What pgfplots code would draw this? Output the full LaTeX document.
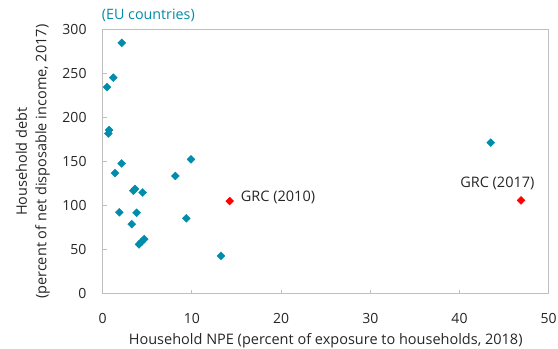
\documentclass[border=0pt]{standalone}
\usepackage{fontspec}
\setmainfont{Open Sans}
\usepackage{pgfplots}
\pgfplotsset{compat=1.18}
\usetikzlibrary{calc}
\definecolor{teal1}{RGB}{0,140,170}
\definecolor{axgray}{RGB}{191,191,191}
\newcommand{\lbl}{\fontsize{14.5bp}{19.5bp}\selectfont}
\newcommand{\tck}{\fontsize{14bp}{16bp}\selectfont}
\begin{document}
\lbl
\begin{tikzpicture}
\begin{axis}[
  name=ax,
  at={(0,0)}, anchor=south west,
  scale only axis, width=446bp, height=264bp,
  xmin=0, xmax=50, ymin=0, ymax=300,
  xtick={0,10,...,50}, ytick={0,50,...,300},
  tick pos=left, tick align=inside,
  major tick length=4bp,
  axis line style={axgray, line width=1bp},
  tick style={axgray, line width=1bp},
  every tick label/.append style={font=\tck, text=black!85, inner sep=0pt},
  xticklabel style={yshift=-19bp},
  yticklabel style={xshift=-16bp},
  /pgf/number format/assume math mode=true,
  xlabel={Household NPE (percent of exposure to households, 2018)},
  xlabel style={font=\lbl, text=black!85, at={(axis description cs:0.5,0)}, anchor=base, inner sep=0pt, yshift=-51.3bp},
  ylabel={Household debt\\(percent of net disposable income, 2017)},
  ylabel style={font=\lbl, text=black!85, align=center, at={(axis description cs:-0.118,0.5)}, anchor=south, inner sep=0pt},
  clip=false,
]
\addplot[only marks, mark=square*, mark size=2.8bp, mark options={rotate=45, fill=teal1, draw=teal1}] coordinates {
(2.13,285) (1.19,245.5) (0.48,234.8) (0.71,186) (0.63,182)
(2.13,148) (1.38,137) (9.9,152.7) (8.14,133.8)
(3.43,117) (3.62,119) (4.48,115)
(1.86,92.5) (3.81,92) (3.25,79) (9.37,85.7)
(4.07,56) (4.37,59) (4.66,62) (13.26,43) (43.5,171.6)
};
\addplot[only marks, mark=square*, mark size=2.8bp, mark options={rotate=45, fill=red, draw=red}] coordinates {
(14.24,105.3) (46.9,106)
};
\node[anchor=base west, inner sep=0pt, text=black!85, font=\lbl] at (axis cs:14.24,105.3) [xshift=11bp] {GRC (2010)};
\node[anchor=base, inner sep=0pt, text=black!85, font=\lbl] at (axis cs:46.9,106) [xshift=-23.7bp, yshift=13bp] {GRC (2017)};
\end{axis}
\node[anchor=west, inner sep=0pt, text=teal1, font=\fontsize{14.3bp}{16bp}\selectfont] at ($(ax.south west)+(-1bp,278.7bp)$) {(EU countries)};
\path ($(ax.south west)+(-102.7bp,-53.3bp)$) rectangle ($(ax.south west)+(455.3bp,293.7bp)$);
\end{tikzpicture}
\end{document}
